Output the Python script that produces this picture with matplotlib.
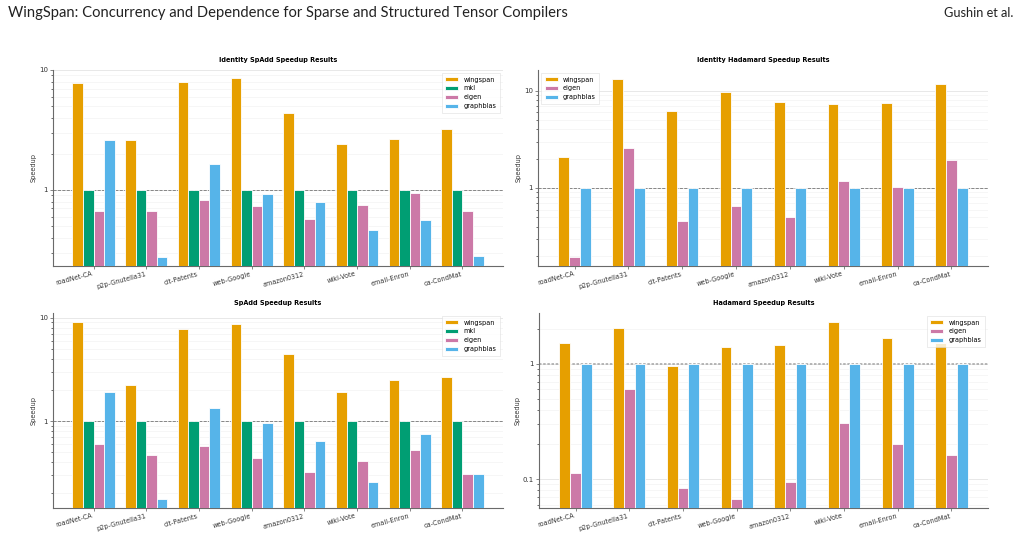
# -*- coding: utf-8 -*-
"""WingSpan speedup results: four log-scale grouped bar panels."""
import numpy as np
import matplotlib
matplotlib.use("Agg")
import matplotlib.pyplot as plt
from matplotlib.ticker import LogLocator, FuncFormatter, NullFormatter

DATASETS = ["roadNet-CA", "p2p-Gnutella31", "cit-Patents", "web-Google",
            "amazon0312", "wiki-Vote", "email-Enron", "ca-CondMat"]

# ---------- Identity SpAdd ----------
id_spadd_wingspan = [7.78, 2.61, 7.98, 8.57, 4.39, 2.41, 2.64, 3.20]
id_spadd_mkl = [1.0, 1.0, 1.0, 1.0, 1.0, 1.0, 1.0, 1.0]
id_spadd_eigen = [0.667, 0.667, 0.83, 0.734, 0.571, 0.754, 0.938, 0.671]
id_spadd_graphblas = [2.59, 0.275, 1.63, 0.93, 0.80, 0.465, 0.56, 0.28]

# ---------- Identity Hadamard ----------
id_had_wingspan = [2.10, 13.1, 6.18, 9.77, 7.65, 7.29, 7.41, 11.6]
id_had_eigen = [0.194, 2.56, 0.455, 0.648, 0.508, 1.18, 1.02, 1.94]
id_had_graphblas = [1.0, 1.0, 1.0, 1.0, 1.0, 1.0, 1.0, 1.0]

# ---------- SpAdd ----------
spadd_wingspan = [9.15, 2.23, 7.83, 8.75, 4.45, 1.91, 2.51, 2.65]
spadd_mkl = [1.0, 1.0, 1.0, 1.0, 1.0, 1.0, 1.0, 1.0]
spadd_eigen = [0.603, 0.465, 0.569, 0.435, 0.323, 0.410, 0.524, 0.307]
spadd_graphblas = [1.92, 0.176, 1.35, 0.957, 0.645, 0.255, 0.754, 0.307]

# ---------- Hadamard ----------
had_wingspan = [1.52, 2.05, 0.948, 1.39, 1.46, 2.29, 1.68, 1.51]
had_eigen = [0.1135, 0.600, 0.083, 0.0667, 0.0948, 0.307, 0.1995, 0.162]
had_graphblas = [1.0, 1.0, 1.0, 1.0, 1.0, 1.0, 1.0, 1.0]

COLORS = {"wingspan": "#E69F00", "mkl": "#009E73",
          "eigen": "#CC79A7", "graphblas": "#56B4E9"}

W, H = 1021, 535
FS = 4.7


def dec_fmt(v, _):
    if v >= 1:
        return f"{v:.0f}"
    return f"{v:g}"


def panel(fig, box, title, series, ylim, legend_loc,
          base_ls="--", base_lw=0.6, base_color="#777777"):
    l, t, r, b = box
    ax = fig.add_axes([l / W, 1 - b / H, (r - l) / W, (b - t) / H])
    n = len(series)
    width = 0.2
    x = np.arange(len(DATASETS))
    for i, (name, vals) in enumerate(series):
        off = (i - (n - 1) / 2) * width
        ax.bar(x + off, vals, width, color=COLORS[name], label=name,
               edgecolor="white", linewidth=0.6, zorder=3)
    ax.set_yscale("log")
    ax.set_ylim(*ylim)
    if n == 4:
        ax.set_xlim(-0.77, 7.77)
    else:
        ax.set_xlim(-0.68, 7.68)
    ax.axhline(1.0, color=base_color, ls=base_ls, lw=base_lw, zorder=2)
    ax.yaxis.set_major_locator(LogLocator(base=10))
    ax.yaxis.set_major_formatter(FuncFormatter(dec_fmt))
    ax.yaxis.set_minor_locator(LogLocator(base=10, subs=np.arange(2, 10)))
    ax.yaxis.set_minor_formatter(NullFormatter())
    ax.grid(True, which="major", axis="y", color="#e4e4e4", lw=0.6, zorder=0)
    ax.grid(True, which="minor", axis="y", color="#f3f3f3", lw=0.5, zorder=0)
    ax.set_xticks(x)
    ax.set_xticklabels(DATASETS, rotation=15, ha="right", fontsize=FS,
                       color="#333333")
    ax.tick_params(axis="y", labelsize=FS + 0.3, colors="#555555",
                   labelcolor="#333333", length=2, width=0.5, pad=1.5)
    ax.tick_params(axis="y", which="minor", length=1.2, width=0.4)
    ax.tick_params(axis="x", length=2, width=0.5, pad=1.5, colors="#555555",
                   labelcolor="#333333")
    for s in ("top", "right"):
        ax.spines[s].set_visible(False)
    for s in ("left", "bottom"):
        ax.spines[s].set_color("#6a6a6a")
        ax.spines[s].set_linewidth(0.8)
    ax.set_ylabel("Speedup", fontsize=FS, color="#333333", labelpad=1.5)
    ax.set_title(title, fontsize=FS, fontweight="bold", pad=6)
    leg = ax.legend(loc=legend_loc, fontsize=FS, frameon=True, fancybox=False,
                    handlelength=2.0, handleheight=0.6, borderpad=0.5,
                    labelspacing=0.45, handletextpad=0.8)
    leg.get_frame().set_edgecolor("#dddddd")
    leg.get_frame().set_linewidth(0.5)
    return ax


def main():
    fig = plt.figure(figsize=(W / 100, H / 100), dpi=100)
    fig.text(8 / W, 1 - 13 / H, "WingSpan: Concurrency and Dependence for Sparse and "
             "Structured Tensor Compilers", fontsize=10.6, family="Lato",
             va="center", ha="left", color="#222222")
    fig.text(1013 / W, 1 - 13 / H, "Gushin et al.", fontsize=9.2, family="Lato",
             va="center", ha="right", color="#222222")

    panel(fig, (53, 70, 503, 266), "Identity SpAdd Speedup Results",
          [("wingspan", id_spadd_wingspan), ("mkl", id_spadd_mkl),
           ("eigen", id_spadd_eigen), ("graphblas", id_spadd_graphblas)],
          (0.232, 10.0), "upper right")
    panel(fig, (538, 70, 988, 266), "Identity Hadamard Speedup Results",
          [("wingspan", id_had_wingspan), ("eigen", id_had_eigen),
           ("graphblas", id_had_graphblas)],
          (0.158, 16.3), "upper left")
    panel(fig, (53, 313, 503, 508), "SpAdd Speedup Results",
          [("wingspan", spadd_wingspan), ("mkl", spadd_mkl),
           ("eigen", spadd_eigen), ("graphblas", spadd_graphblas)],
          (0.144, 11.1), "upper right")
    panel(fig, (539, 313, 988, 508), "Hadamard Speedup Results",
          [("wingspan", had_wingspan), ("eigen", had_eigen),
           ("graphblas", had_graphblas)],
          (0.0561, 2.76), "upper right",
          base_ls=(0, (1.5, 1)), base_lw=1.2, base_color="#aaaaaa")

    fig.savefig("out.png", dpi=100)
    plt.close(fig)


if __name__ == "__main__":
    main()
